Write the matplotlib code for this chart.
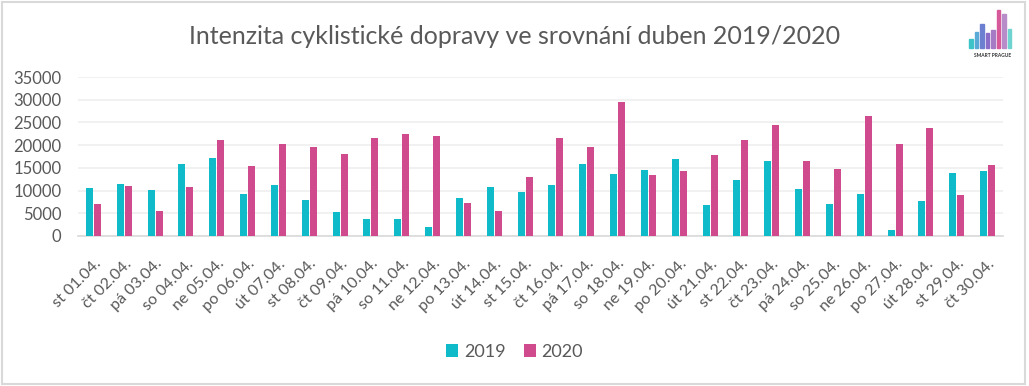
import matplotlib.pyplot as plt
import matplotlib.patches as mpatches
import numpy as np

# Data: daily cyclist counts, April 2019 vs April 2020
days = ['st 01.04.', 'čt 02.04.', 'pá 03.04.', 'so 04.04.', 'ne 05.04.', 'po 06.04.',
        'út 07.04.', 'st 08.04.', 'čt 09.04.', 'pá 10.04.', 'so 11.04.', 'ne 12.04.',
        'po 13.04.', 'út 14.04.', 'st 15.04.', 'čt 16.04.', 'pá 17.04.', 'so 18.04.',
        'ne 19.04.', 'po 20.04.', 'út 21.04.', 'st 22.04.', 'čt 23.04.', 'pá 24.04.',
        'so 25.04.', 'ne 26.04.', 'po 27.04.', 'út 28.04.', 'st 29.04.', 'čt 30.04.']
values_2019 = [10600, 11500, 10150, 15900, 17200, 9300, 11250, 7950, 5300, 3750,
               3750, 2000, 8400, 10800, 9700, 11250, 15900, 13700, 14550, 17000,
               6850, 12350, 16550, 10400, 7050, 9300, 1350, 7700, 13900, 14350]
values_2020 = [7100, 11050, 5500, 10800, 21200, 15450, 20300, 19650, 18100, 21650,
               22500, 22050, 7300, 5500, 13000, 21650, 19650, 29550, 13450, 14350,
               17850, 21200, 24500, 16550, 14800, 26500, 20300, 23800, 9050, 15650]
series_labels = ['2019', '2020']
yticks = [0, 5000, 10000, 15000, 20000, 25000, 30000, 35000]

teal = '#0FBBC9'
magenta = '#CF4B8D'
grey_text = '#595959'

plt.rcParams['font.family'] = ['Lato', 'DejaVu Sans']

fig = plt.figure(figsize=(10.29, 3.86), dpi=100)
ax = fig.add_axes([78 / 1029, 1 - 236 / 386, (1003 - 78) / 1029, (236 - 77) / 386])

x = np.arange(len(days))
w = 0.23
ax.bar(x - 0.13, values_2019, width=w, color=teal, label=series_labels[0], zorder=3)
ax.bar(x + 0.13, values_2020, width=w, color=magenta, label=series_labels[1], zorder=3)

ax.set_xlim(-0.5, len(days) - 0.5)
ax.set_ylim(0, 35000)
ax.set_yticks(yticks)
ax.set_yticklabels([str(v) for v in yticks], fontsize=12, color=grey_text)
ax.set_xticks(x)
ax.set_xticklabels(days, rotation=45, ha='right', rotation_mode='anchor',
                   fontsize=11.5, color=grey_text)
ax.tick_params(axis='both', length=0)
ax.tick_params(axis='x', pad=15)
ax.tick_params(axis='y', pad=12)
ax.grid(axis='y', color='#EFEFEF', linewidth=1.2, zorder=0)
for side in ['top', 'right', 'left']:
    ax.spines[side].set_visible(False)
ax.spines['bottom'].set_color('#D9D9D9')
ax.spines['bottom'].set_linewidth(1.2)

fig.text(0.5, 1 - 37 / 386, 'Intenzita cyklistické dopravy ve srovnání duben 2019/2020',
         ha='center', va='center', fontsize=18, color=grey_text)

fig.legend(loc='center', bbox_to_anchor=(0.5, 1 - 352 / 386), ncol=2, frameon=False,
           fontsize=13, labelcolor=grey_text, handlelength=0.7, handleheight=0.7,
           handletextpad=0.3, columnspacing=1.0)

# outer border of the chart area
fig.patches.append(mpatches.Rectangle((2 / 1029, 2 / 386), 1 - 6 / 1029, 1 - 4 / 386,
                                      transform=fig.transFigure, fill=False,
                                      edgecolor='#D9D9D9', linewidth=1.5))

# small Smart Prague logo approximation
logo = fig.add_axes([965 / 1029, 1 - 62 / 386, 55 / 1029, 55 / 386])
logo.set_xlim(0, 10)
logo.set_ylim(0, 10)
logo.axis('off')
logo_bars = [(0.8, 4.2, '#3EC3C8'), (1.8, 5.5, '#5AA9D6'), (2.8, 7.0, '#6D7FD0'),
             (3.8, 5.2, '#8C6CC9'), (4.8, 5.8, '#A47BC4'), (5.8, 9.5, '#D65A9A'),
             (6.8, 8.8, '#B88CC9'), (7.8, 6.0, '#6FD3CF')]
for bx, bh, bc in logo_bars:
    logo.add_patch(mpatches.Rectangle((bx, 2.5), 0.6, bh - 2.5, color=bc))
logo.text(5, 1.2, 'SMART PRAGUE', ha='center', va='center', fontsize=3.5,
          color='#333333', fontweight='bold')

fig.savefig('out.png', dpi=100)
